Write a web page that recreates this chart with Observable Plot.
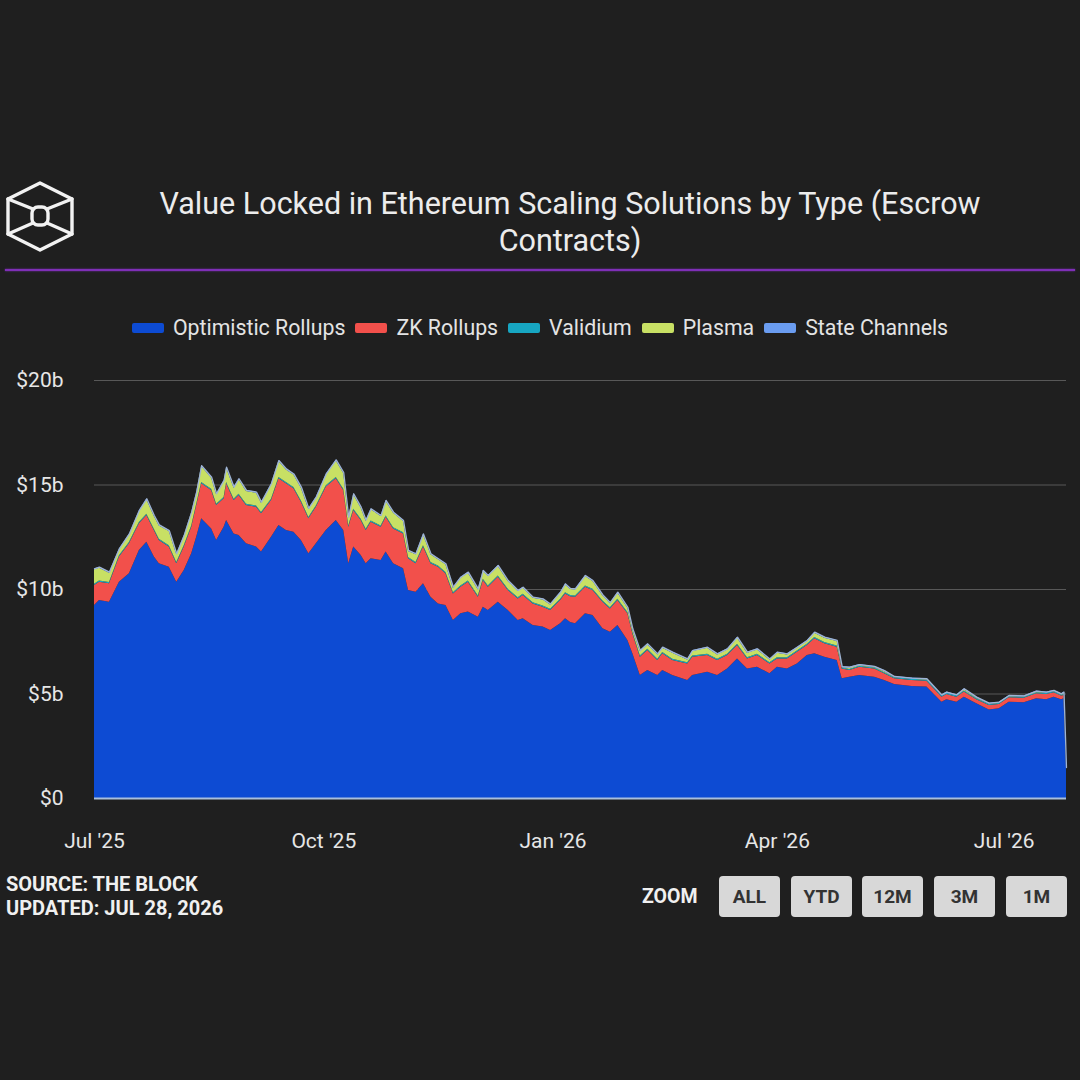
<!DOCTYPE html>
<html>
<head>
<meta charset="utf-8">
<script src="https://cdn.jsdelivr.net/npm/d3@7"></script>
<script src="https://cdn.jsdelivr.net/npm/@observablehq/plot@0.6"></script>
<style>
  html, body { margin: 0; padding: 0; background: #1f1f1f; }
  body { width: 1080px; height: 1080px; position: relative; overflow: hidden; font-family: Roboto, "Noto Sans", sans-serif; color: #e8e8e8; }
  #logo { position: absolute; left: 6px; top: 181px; }
  #title { position: absolute; left: 130px; top: 185px; width: 880px; text-align: center; font-size: 30.5px; line-height: 37px; color: #ececec; }
  #rule { position: absolute; left: 5px; top: 269px; width: 1070px; height: 2px; background: #7e2fb6; box-shadow: 0 0 2px #7e2fb6; }
  #legend { position: absolute; left: 0; top: 315px; width: 1080px; display: flex; justify-content: center; gap: 10px; font-size: 21.3px; color: #e4e4e4; box-sizing: border-box; }
  .item { display: flex; align-items: center; }
  .sw { width: 32px; height: 10px; border-radius: 2px; margin-right: 9px; }
  #chart { position: absolute; left: 0; top: 360px; }
  #source { position: absolute; left: 6px; top: 872px; font-weight: 700; font-size: 20px; line-height: 24px; color: #f0f0f0; }
  #zoomlbl { position: absolute; left: 642px; top: 885px; font-weight: 700; font-size: 19.5px; color: #f0f0f0; }
  .btn { position: absolute; top: 876px; width: 61px; height: 41px; background: #d8d8d8; border-radius: 4px; font-weight: 700; font-size: 19px; color: #333; display: flex; align-items: center; justify-content: center; }
</style>
</head>
<body>
<svg id="logo" width="70" height="72" viewBox="0 0 70 72">
  <g fill="none" stroke="#f2f2f2" stroke-width="3.4" stroke-linejoin="round" stroke-linecap="round">
    <polygon points="34,2 66,18 66,53 34,69 2,53 2,18"/>
    <line x1="2" y1="18" x2="27" y2="28"/>
    <line x1="66" y1="18" x2="41" y2="28"/>
    <line x1="2" y1="53" x2="27" y2="42"/>
    <line x1="66" y1="53" x2="41" y2="42"/>
    <rect x="26" y="26" width="16" height="18" rx="6"/>
  </g>
</svg>
<div id="title">Value Locked in Ethereum Scaling Solutions by Type (Escrow Contracts)</div>
<div id="rule"></div>
<div id="legend"></div>
<div id="chart"></div>
<div id="source">SOURCE: THE BLOCK<br>UPDATED: JUL 28, 2026</div>
<div id="zoomlbl">ZOOM</div>
<div id="buttons"></div>
<script>
const seriesNames = ["Optimistic Rollups", "ZK Rollups", "Validium", "Plasma", "State Channels"];
const seriesColors = ["#0d4bd3", "#f2504b", "#17a6c2", "#c8e064", "#6a9cf0"];

const dates = [
"2025-07-01","2025-07-03","2025-07-07","2025-07-11","2025-07-15","2025-07-19","2025-07-22","2025-07-25","2025-07-27","2025-07-31",
"2025-08-03","2025-08-06","2025-08-09","2025-08-11","2025-08-13","2025-08-17","2025-08-19","2025-08-22","2025-08-23","2025-08-26",
"2025-08-28","2025-08-31","2025-09-04","2025-09-06","2025-09-10","2025-09-13","2025-09-16","2025-09-19","2025-09-22","2025-09-25",
"2025-09-28","2025-10-02","2025-10-06","2025-10-09","2025-10-11","2025-10-13","2025-10-16","2025-10-18","2025-10-20","2025-10-24",
"2025-10-26","2025-10-29","2025-11-02","2025-11-04","2025-11-07","2025-11-10","2025-11-13","2025-11-16","2025-11-19","2025-11-22",
"2025-11-25","2025-11-28","2025-12-02","2025-12-04","2025-12-06","2025-12-10","2025-12-14","2025-12-18","2025-12-20","2025-12-24",
"2025-12-28","2025-12-31","2026-01-04","2026-01-06","2026-01-08","2026-01-10","2026-01-14","2026-01-17","2026-01-21","2026-01-24",
"2026-01-27","2026-01-31","2026-02-02","2026-02-05","2026-02-08","2026-02-12","2026-02-14","2026-02-18","2026-02-24","2026-02-26",
"2026-03-04","2026-03-08","2026-03-12","2026-03-16","2026-03-20","2026-03-24","2026-03-29","2026-04-01","2026-04-05","2026-04-09",
"2026-04-13","2026-04-16","2026-04-20","2026-04-25","2026-04-27","2026-04-30","2026-05-04","2026-05-10","2026-05-14","2026-05-18",
"2026-05-25","2026-05-31","2026-06-06","2026-06-08","2026-06-12","2026-06-15","2026-06-20","2026-06-25","2026-06-29","2026-07-03",
"2026-07-09","2026-07-14","2026-07-18","2026-07-21","2026-07-24","2026-07-25","2026-07-26"
];

// values in $ billions
const optimisticRollups = [
9.23, 9.47, 9.39, 10.35, 10.75, 11.87, 12.26, 11.55, 11.23, 11.07,
10.35, 10.91, 11.71, 12.50, 13.38, 12.90, 12.34, 12.98, 13.30, 12.66,
12.58, 12.19, 12.03, 11.79, 12.50, 13.06, 12.82, 12.74, 12.34, 11.71,
12.19, 12.82, 13.30, 12.82, 11.23, 12.03, 11.63, 11.23, 11.47, 11.39,
11.79, 11.23, 10.99, 9.95, 9.87, 10.27, 9.63, 9.31, 9.23, 8.52,
8.84, 8.92, 8.67, 9.15, 9.00, 9.39, 9.00, 8.52, 8.60, 8.28,
8.20, 8.04, 8.36, 8.60, 8.42, 8.36, 8.84, 8.76, 8.12, 7.96,
8.28, 7.56, 6.92, 5.89, 6.12, 5.89, 6.12, 5.89, 5.65, 5.89,
6.04, 5.89, 6.20, 6.68, 6.20, 6.28, 5.97, 6.28, 6.20, 6.44,
6.84, 6.92, 6.76, 6.60, 5.73, 5.80, 5.89, 5.80, 5.65, 5.45,
5.36, 5.33, 4.61, 4.72, 4.61, 4.85, 4.53, 4.24, 4.29, 4.61,
4.58, 4.77, 4.72, 4.85, 4.72, 4.77, 1.40
];
const zkRollups = [
0.96, 0.88, 0.88, 1.20, 1.44, 1.27, 1.28, 1.27, 1.11, 0.96,
0.88, 1.12, 1.27, 1.52, 1.68, 1.84, 1.68, 1.36, 1.76, 1.60,
1.92, 1.83, 1.91, 1.83, 1.76, 2.24, 2.24, 2.08, 1.84, 1.67,
1.75, 2.08, 2.00, 1.92, 1.75, 1.75, 1.67, 1.59, 1.75, 1.59,
1.67, 1.67, 1.67, 1.52, 1.36, 1.76, 1.60, 1.76, 1.52, 1.27,
1.27, 1.43, 0.96, 1.28, 1.11, 1.20, 0.95, 1.03, 1.11, 1.03,
0.95, 0.96, 1.11, 1.19, 1.23, 1.27, 1.27, 1.19, 1.27, 1.11,
1.19, 1.28, 0.96, 0.87, 0.96, 0.71, 0.80, 0.71, 0.79, 0.87,
0.80, 0.71, 0.64, 0.64, 0.48, 0.56, 0.47, 0.40, 0.48, 0.56,
0.48, 0.72, 0.64, 0.64, 0.47, 0.32, 0.39, 0.40, 0.32, 0.28,
0.29, 0.28, 0.24, 0.26, 0.24, 0.24, 0.19, 0.21, 0.21, 0.21,
0.22, 0.24, 0.26, 0.21, 0.18, 0.16, 0.04
];
const validium = [
0.06, 0.06, 0.06, 0.06, 0.06, 0.06, 0.06, 0.06, 0.06, 0.06,
0.06, 0.06, 0.06, 0.06, 0.06, 0.06, 0.06, 0.06, 0.06, 0.06,
0.06, 0.06, 0.06, 0.06, 0.06, 0.06, 0.06, 0.06, 0.06, 0.06,
0.06, 0.06, 0.06, 0.06, 0.06, 0.06, 0.06, 0.06, 0.06, 0.06,
0.06, 0.06, 0.06, 0.06, 0.06, 0.06, 0.06, 0.06, 0.06, 0.06,
0.06, 0.06, 0.06, 0.06, 0.06, 0.06, 0.06, 0.06, 0.06, 0.06,
0.06, 0.06, 0.06, 0.06, 0.06, 0.06, 0.06, 0.06, 0.06, 0.06,
0.06, 0.06, 0.06, 0.06, 0.06, 0.06, 0.06, 0.06, 0.06, 0.06,
0.06, 0.06, 0.06, 0.06, 0.06, 0.06, 0.06, 0.06, 0.06, 0.06,
0.06, 0.06, 0.06, 0.06, 0.05, 0.05, 0.05, 0.05, 0.05, 0.05,
0.05, 0.05, 0.05, 0.05, 0.05, 0.05, 0.05, 0.05, 0.05, 0.05,
0.05, 0.05, 0.05, 0.05, 0.05, 0.05, 0.02
];
const plasma = [
0.69, 0.61, 0.45, 0.29, 0.36, 0.53, 0.69, 0.61, 0.64, 0.68,
0.37, 0.44, 0.61, 0.53, 0.76, 0.52, 0.45, 0.77, 0.68, 0.53,
0.69, 0.61, 0.61, 0.45, 0.69, 0.76, 0.60, 0.60, 0.61, 0.39,
0.37, 0.52, 0.79, 0.75, 0.37, 0.69, 0.53, 0.39, 0.53, 0.45,
0.69, 0.69, 0.53, 0.29, 0.37, 0.52, 0.37, 0.29, 0.37, 0.21,
0.37, 0.37, 0.29, 0.37, 0.45, 0.45, 0.37, 0.29, 0.29, 0.21,
0.29, 0.20, 0.29, 0.37, 0.29, 0.29, 0.45, 0.37, 0.24, 0.19,
0.29, 0.20, 0.13, 0.21, 0.21, 0.21, 0.21, 0.29, 0.13, 0.21,
0.29, 0.21, 0.21, 0.29, 0.21, 0.21, 0.13, 0.21, 0.13, 0.13,
0.13, 0.21, 0.21, 0.21, 0.01, 0.06, 0.03, 0.02, 0.05, 0.01,
0.01, 0.02, 0.01, 0.01, 0.01, 0.06, 0.03, 0.01, 0.01, 0.01,
0.01, 0.03, 0.01, 0.01, 0.01, 0.06, 0.00
];
const stateChannels = [
0.05, 0.05, 0.05, 0.05, 0.05, 0.05, 0.05, 0.05, 0.05, 0.05,
0.05, 0.05, 0.05, 0.05, 0.05, 0.05, 0.05, 0.05, 0.05, 0.05,
0.05, 0.05, 0.05, 0.05, 0.05, 0.05, 0.05, 0.05, 0.05, 0.05,
0.05, 0.05, 0.05, 0.05, 0.05, 0.05, 0.05, 0.05, 0.05, 0.05,
0.05, 0.05, 0.05, 0.05, 0.05, 0.05, 0.05, 0.05, 0.05, 0.05,
0.05, 0.05, 0.05, 0.05, 0.05, 0.05, 0.05, 0.05, 0.05, 0.05,
0.05, 0.05, 0.05, 0.05, 0.05, 0.05, 0.05, 0.05, 0.05, 0.05,
0.05, 0.05, 0.05, 0.05, 0.05, 0.05, 0.05, 0.05, 0.05, 0.05,
0.05, 0.05, 0.05, 0.05, 0.05, 0.05, 0.05, 0.05, 0.05, 0.05,
0.05, 0.05, 0.05, 0.05, 0.05, 0.05, 0.05, 0.05, 0.05, 0.05,
0.05, 0.05, 0.05, 0.05, 0.05, 0.05, 0.05, 0.05, 0.05, 0.05,
0.05, 0.05, 0.05, 0.05, 0.05, 0.05, 0.02
];

const yTicks = [0, 5, 10, 15, 20];
const yTickLabels = ["$0", "$5b", "$10b", "$15b", "$20b"];
const xTicks = ["2025-07-01", "2025-10-01", "2026-01-01", "2026-04-01", "2026-07-01"];
const xTickLabels = ["Jul '25", "Oct '25", "Jan '26", "Apr '26", "Jul '26"];
const zoomButtons = ["ALL", "YTD", "12M", "3M", "1M"];

// ---- build
const seriesValues = [optimisticRollups, zkRollups, validium, plasma, stateChannels];
const rows = [];
seriesNames.forEach((name, s) => {
  dates.forEach((d, i) => rows.push({ date: new Date(d), series: name, value: seriesValues[s][i] }));
});
const totals = dates.map((d, i) => ({ date: new Date(d), value: seriesValues.reduce((a, arr) => a + arr[i], 0) }));

const xTickDates = xTicks.map(d => new Date(d));
const xLabelMap = new Map(xTickDates.map((d, i) => [d.getTime(), xTickLabels[i]]));
const yLabelMap = new Map(yTicks.map((v, i) => [v, yTickLabels[i]]));

const chart = Plot.plot({
  width: 1080,
  height: 500,
  marginTop: 20,
  marginBottom: 62,
  marginLeft: 94,
  marginRight: 14,
  style: { background: "transparent", color: "#e6e6e6", fontFamily: "Roboto, sans-serif", fontSize: "21px" },
  x: { type: "utc", domain: [new Date(dates[0]), new Date(dates[dates.length - 1])] },
  y: { domain: [0, 20] },
  color: { domain: seriesNames, range: seriesColors },
  marks: [
    Plot.gridY(yTicks.filter(v => v > 0), { stroke: "#585858", strokeOpacity: 1, strokeWidth: 1 }),
    Plot.areaY(rows, { x: "date", y: "value", fill: "series", z: "series" }),
    Plot.lineY(totals, { x: "date", y: "value", stroke: "#9fb4d4", strokeWidth: 1.3 }),
    Plot.ruleY([0], { stroke: "#a9bfdc", strokeWidth: 2 }),
    Plot.axisY({ ticks: yTicks, tickFormat: v => yLabelMap.get(v), tickSize: 0, tickPadding: 31, fill: "#e6e6e6", fontSize: 21, label: null }),
    Plot.axisX({ ticks: xTickDates, tickFormat: d => xLabelMap.get(d.getTime()), tickSize: 0, tickPadding: 35, fill: "#e6e6e6", fontSize: 21, label: null })
  ]
});
document.getElementById("chart").appendChild(chart);

// legend
const legend = document.getElementById("legend");
seriesNames.forEach((name, i) => {
  const it = document.createElement("div");
  it.className = "item";
  const sw = document.createElement("span");
  sw.className = "sw";
  sw.style.background = seriesColors[i];
  const t = document.createElement("span");
  t.textContent = name;
  it.appendChild(sw); it.appendChild(t);
  legend.appendChild(it);
});

// zoom buttons
const btnLefts = [719, 791, 862, 934, 1006];
const bwrap = document.getElementById("buttons");
zoomButtons.forEach((b, i) => {
  const el = document.createElement("div");
  el.className = "btn";
  el.style.left = btnLefts[i] + "px";
  el.textContent = b;
  bwrap.appendChild(el);
});
</script>
</body>
</html>
